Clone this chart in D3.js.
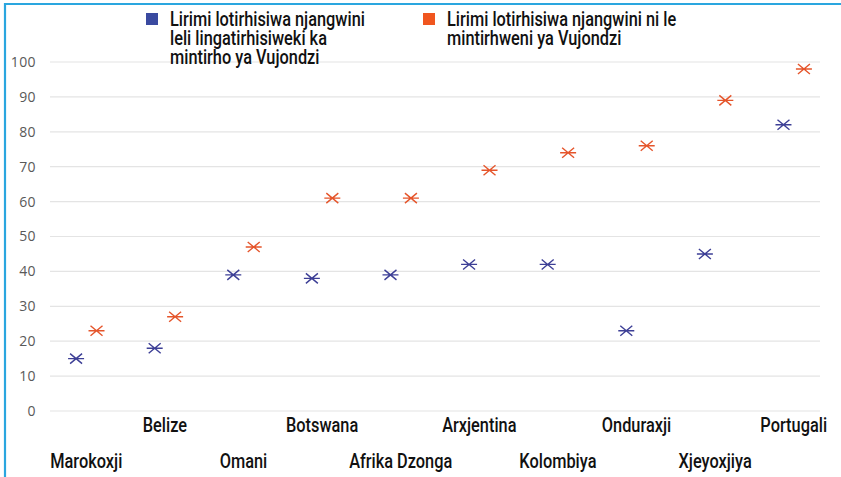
<!DOCTYPE html>
<html><head><meta charset="utf-8">
<script src="https://cdn.jsdelivr.net/npm/d3@7"></script>
<style>
html,body{margin:0;padding:0;background:#fff;}
svg{display:block;}
</style></head>
<body>
<script>
const categories = ["Marokoxji","Belize","Omani","Botswana","Afrika Dzonga","Arxjentina","Kolombiya","Onduraxji","Xjeyoxjiya","Portugali"];
const legendLines = [["Lirimi lotirhisiwa njangwini","leli lingatirhisiweki ka","mintirho ya Vujondzi"],["Lirimi lotirhisiwa njangwini ni le","mintirhweni ya Vujondzi"]];
const notUsed = [15,18,39,38,39,42,42,23,45,82];
const used = [23,27,47,61,61,69,74,76,89,98];
const yTicks = [0,10,20,30,40,50,60,70,80,90,100];
const colors = ["#3d3f96","#e5552b"];
const legendColors = ["#3a4aa0","#f0561f"];

const W=841,H=477;
const svg=d3.select("body").append("svg").attr("width",W).attr("height",H);
svg.append("rect").attr("width",W).attr("height",H).attr("fill","#fff");
svg.append("path").attr("d",`M5,${H} L5,4 L${W},4`).attr("fill","none").attr("stroke","#2aa6df").attr("stroke-width",2.2);

const y=d3.scaleLinear().domain([0,100]).range([411,62]);
const x=d3.scaleBand().domain(categories).range([47,833]);
const gridX0=50, gridX1=820;

svg.append("g").selectAll("line").data(yTicks).join("line")
  .attr("x1",gridX0).attr("x2",gridX1).attr("y1",d=>y(d)).attr("y2",d=>y(d))
  .attr("stroke","#e4e4e4").attr("stroke-width",1.2);
const yAxis=d3.axisLeft(y).tickValues(yTicks).tickSize(0).tickPadding(0);
const yg=svg.append("g").attr("transform","translate(36,0)").call(yAxis);
yg.select(".domain").remove();
yg.selectAll("text").attr("font-family","'Open Sans','Liberation Sans',sans-serif").attr("font-size",14).attr("letter-spacing",0.4).attr("fill","#595959");

// condensed font via horizontal scale
const labFont="Roboto,'Liberation Sans',sans-serif";
const FS=19.5;
const probe=svg.append("text").attr("font-family",labFont).attr("font-size",FS).attr("font-weight",500).text(legendLines[0][0]);
const sx=195/probe.node().getComputedTextLength();
probe.remove();

svg.append("g").selectAll("g").data(categories).join("g")
  .attr("transform",(d,i)=>`translate(${x(d)+x.bandwidth()/2},${i%2===0?468:432}) scale(${sx},1)`)
  .append("text").attr("text-anchor","middle")
  .attr("font-family",labFont).attr("font-size",FS).attr("font-weight",500).attr("fill","#111")
  .text(d=>d);

const star="M-8,0L8,0M-6,-5L6,5M-6,5L6,-5";
const off=x.bandwidth()*0.13;
[notUsed,used].forEach((vals,si)=>{
  svg.append("g").selectAll("path").data(vals).join("path")
    .attr("transform",(v,i)=>`translate(${x(categories[i])+x.bandwidth()/2+(si===0?-off:off)},${y(v)})`)
    .attr("d",star).attr("fill","none").attr("stroke",colors[si]).attr("stroke-width",1.4);
});

const legX=[146,423];
legendLines.forEach((lines,si)=>{
  const g=svg.append("g");
  g.append("rect").attr("x",legX[si]).attr("y",13).attr("width",12).attr("height",12).attr("fill",legendColors[si]);
  g.append("g").attr("transform",`translate(${legX[si]+24},26) scale(${sx},1)`)
    .append("text").attr("font-family",labFont).attr("font-size",FS).attr("font-weight",500).attr("fill","#111")
    .selectAll("tspan").data(lines).join("tspan")
    .attr("x",0).attr("y",(d,i)=>i*19).text(d=>d);
});
</script>
</body></html>
